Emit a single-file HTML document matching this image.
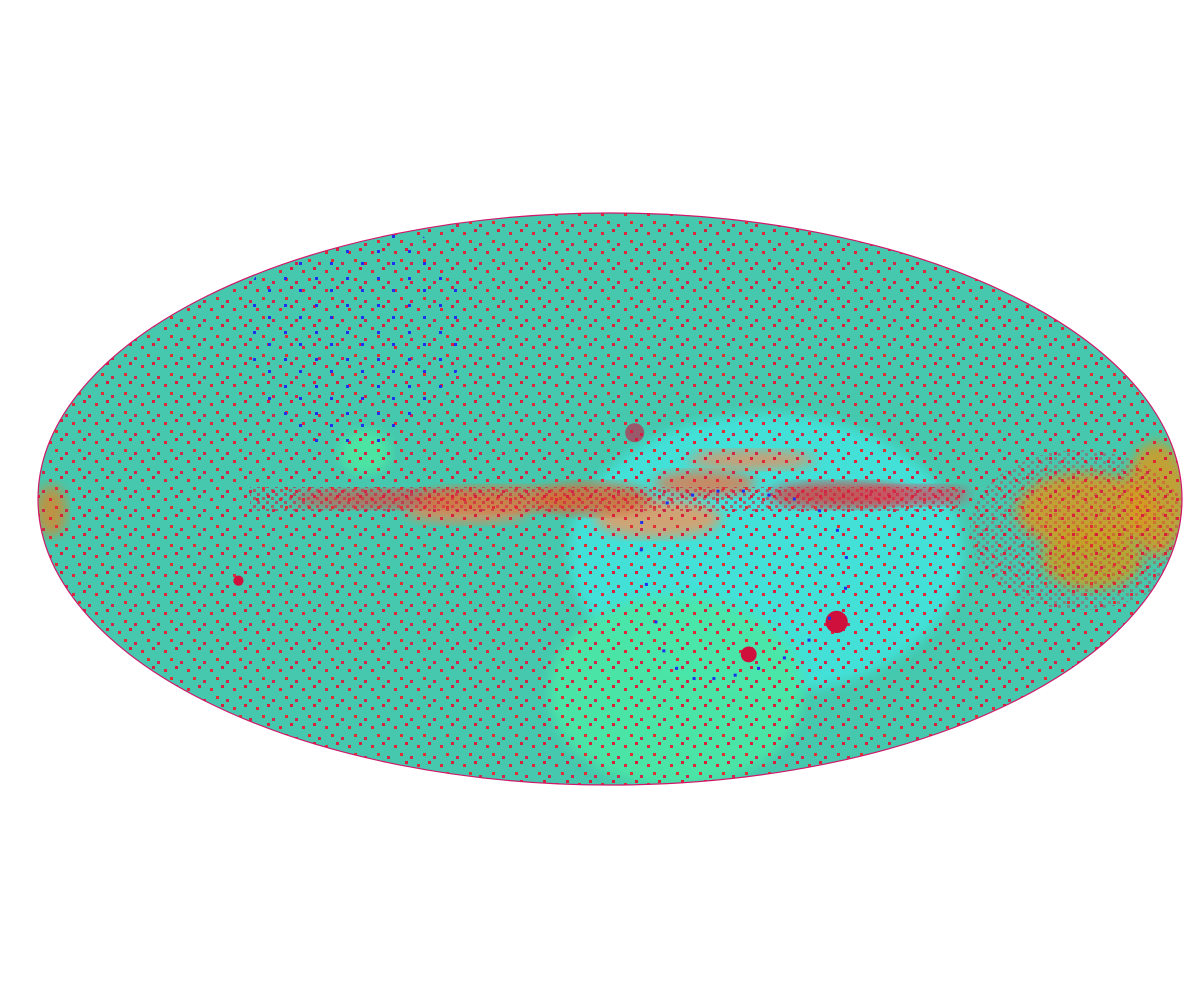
<!DOCTYPE html>
<html><head><meta charset="utf-8"><style>
html,body{margin:0;padding:0;background:#fff;width:1200px;height:1000px;overflow:hidden}
svg{display:block}
</style></head><body>
<svg id="chart" width="1200" height="1000" viewBox="0 0 1200 1000" xmlns="http://www.w3.org/2000/svg">
<defs>
<clipPath id="sky"><ellipse cx="610" cy="499" rx="572" ry="286"/></clipPath>
<pattern id="redDots" width="23" height="19" patternUnits="userSpaceOnUse">
<rect x="3" y="4" width="3" height="3" fill="#e0283a"/>
<rect x="14" y="1" width="3" height="3" fill="#d8203a"/>
<rect x="9" y="12" width="3" height="3" fill="#e03030"/>
<rect x="19" y="15" width="3" height="3" fill="#d02848"/>
</pattern>
<pattern id="denseDots" width="9" height="8" patternUnits="userSpaceOnUse">
<rect x="1" y="1" width="3" height="3" fill="#e0203a"/>
<rect x="5" y="5" width="3" height="3" fill="#d01840"/>
</pattern>
<pattern id="blueDots" width="31" height="27" patternUnits="userSpaceOnUse">
<rect x="5" y="7" width="3" height="3" fill="#2030f0"/>
<rect x="20" y="19" width="3" height="3" fill="#2030f0"/>
</pattern>
<filter id="blur6"><feGaussianBlur stdDeviation="6"/></filter>
</defs>
<g id="layer" clip-path="url(#sky)"></g>
<ellipse cx="610" cy="499" rx="572" ry="286" fill="none" stroke="#d0186a" stroke-width="1.2"/>
</svg>
<script>
// Diffuse regions: lon, lat, size (deg lon), size (deg lat), colour
const regionLon = [50, 28, -78, 15, -45];
const regionLat = [-14, -52, 12, -5, -3];
const regionW = [62, 40, 8, 20, 20];
const regionH = [44, 30, 7, 6, 4];
const regionColor = ['#42e2da', '#4ce6a6', '#4ee6a2', '#d8a070', '#d09060'];
// Galactic plane band segments: lon, lat, half-width lon, half-height lat, colour
const bandLon = [-70, -35, -5, 30, 45, 72, 95, 150, 172, 155, -176];
const bandLat = [0, 0, 0, 4, 10, 1, 1, -3, 0, -15, -3];
const bandW = [30, 25, 18, 16, 20, 22, 18, 22, 10, 16, 5];
const bandH = [3, 4, 5, 4, 3, 4, 3, 12, 18, 10, 8];
const bandColor = ['#c86050','#d57a40','#d86a30','#e07a50','#e89060','#d84040','#d05060','#d89a20','#d59a20','#c8a020','#d08a30'];
// Dense source clusters: lon, lat, radius (deg)
const clusterLon = [79, 52, -122, 8];
const clusterLat = [-32, -41, -21, 17];
const clusterR = [3.5, 2.5, 1.6, 3];
// Blue ring of sources (lon, lat)
const ringLon = [10,18,26,34,42,50,58,66,72,76,78,76,72,66,58,50,42,34,26,20,16,12,10];
const ringLat = [-6,-1,1,2,2,1,0,-3,-8,-15,-23,-31,-37,-42,-45,-47,-48,-48,-45,-40,-32,-22,-13];

const cx = 610, cy = 499, rx = 572, ry = 286;
function proj(lon, lat) {
  const phi = lat * Math.PI / 180;
  let th = phi;
  for (let i = 0; i < 20; i++) {
    const f = 2 * th + Math.sin(2 * th) - Math.PI * Math.sin(phi);
    const d = 2 + 2 * Math.cos(2 * th);
    if (Math.abs(d) < 1e-9) break;
    th -= f / d;
  }
  return [cx + rx * (lon / 180) * Math.cos(th), cy - ry * Math.sin(th)];
}
const NS = 'http://www.w3.org/2000/svg';
const layer = document.getElementById('layer');
function mk(tag, attrs) {
  const el = document.createElementNS(NS, tag);
  for (const k in attrs) el.setAttribute(k, attrs[k]);
  layer.appendChild(el);
  return el;
}
const bg = mk('rect', {x: 0, y: 0, width: 1200, height: 1000, fill: '#45c8ae'});



regionLon.forEach((lon, i) => {
  const [x, y] = proj(lon, regionLat[i]);
  const e = mk('ellipse', {cx: x, cy: y, rx: regionW[i] / 180 * rx, ry: regionH[i] / 90 * ry, fill: regionColor[i], filter: 'url(#blur6)', opacity: 0.95});
  
  
});
bandLon.forEach((lon, i) => {
  const [x, y] = proj(lon, bandLat[i]);
  const e = mk('ellipse', {cx: x, cy: y, rx: bandW[i] / 180 * rx, ry: bandH[i] / 90 * ry, fill: bandColor[i], filter: 'url(#blur6)', opacity: 0.85});
  
  
});
const dots = mk('rect', {x: 0, y: 0, width: 1200, height: 1000, fill: 'url(#redDots)'});


const [bx, by] = proj(-100, 45);
const blue = mk('ellipse', {cx: bx, cy: by, rx: 110, ry: 120, fill: 'url(#blueDots)'});


const [px, py] = proj(0, 0);
const plane = mk('rect', {x: 250, y: py - 12, width: 710, height: 24, fill: 'url(#denseDots)', opacity: 0.6});


const rightDots = mk('ellipse', {cx: 1080, cy: 530, rx: 110, ry: 80, fill: 'url(#denseDots)', opacity: 0.35});



clusterLon.forEach((lon, i) => {
  const [x, y] = proj(lon, clusterLat[i]);
  const c = mk('circle', {cx: x, cy: y, r: clusterR[i] / 90 * ry, fill: '#d0103c', opacity: i === 3 ? 0.6 : 1});
  
  
});
ringLon.forEach((lon, i) => {
  const [x, y] = proj(lon, ringLat[i]);
  const c = mk('rect', {x: x - 1.5, y: y - 1.5, width: 3, height: 3, fill: '#1a30f0'});
  
  
});
</script>
</body></html>
